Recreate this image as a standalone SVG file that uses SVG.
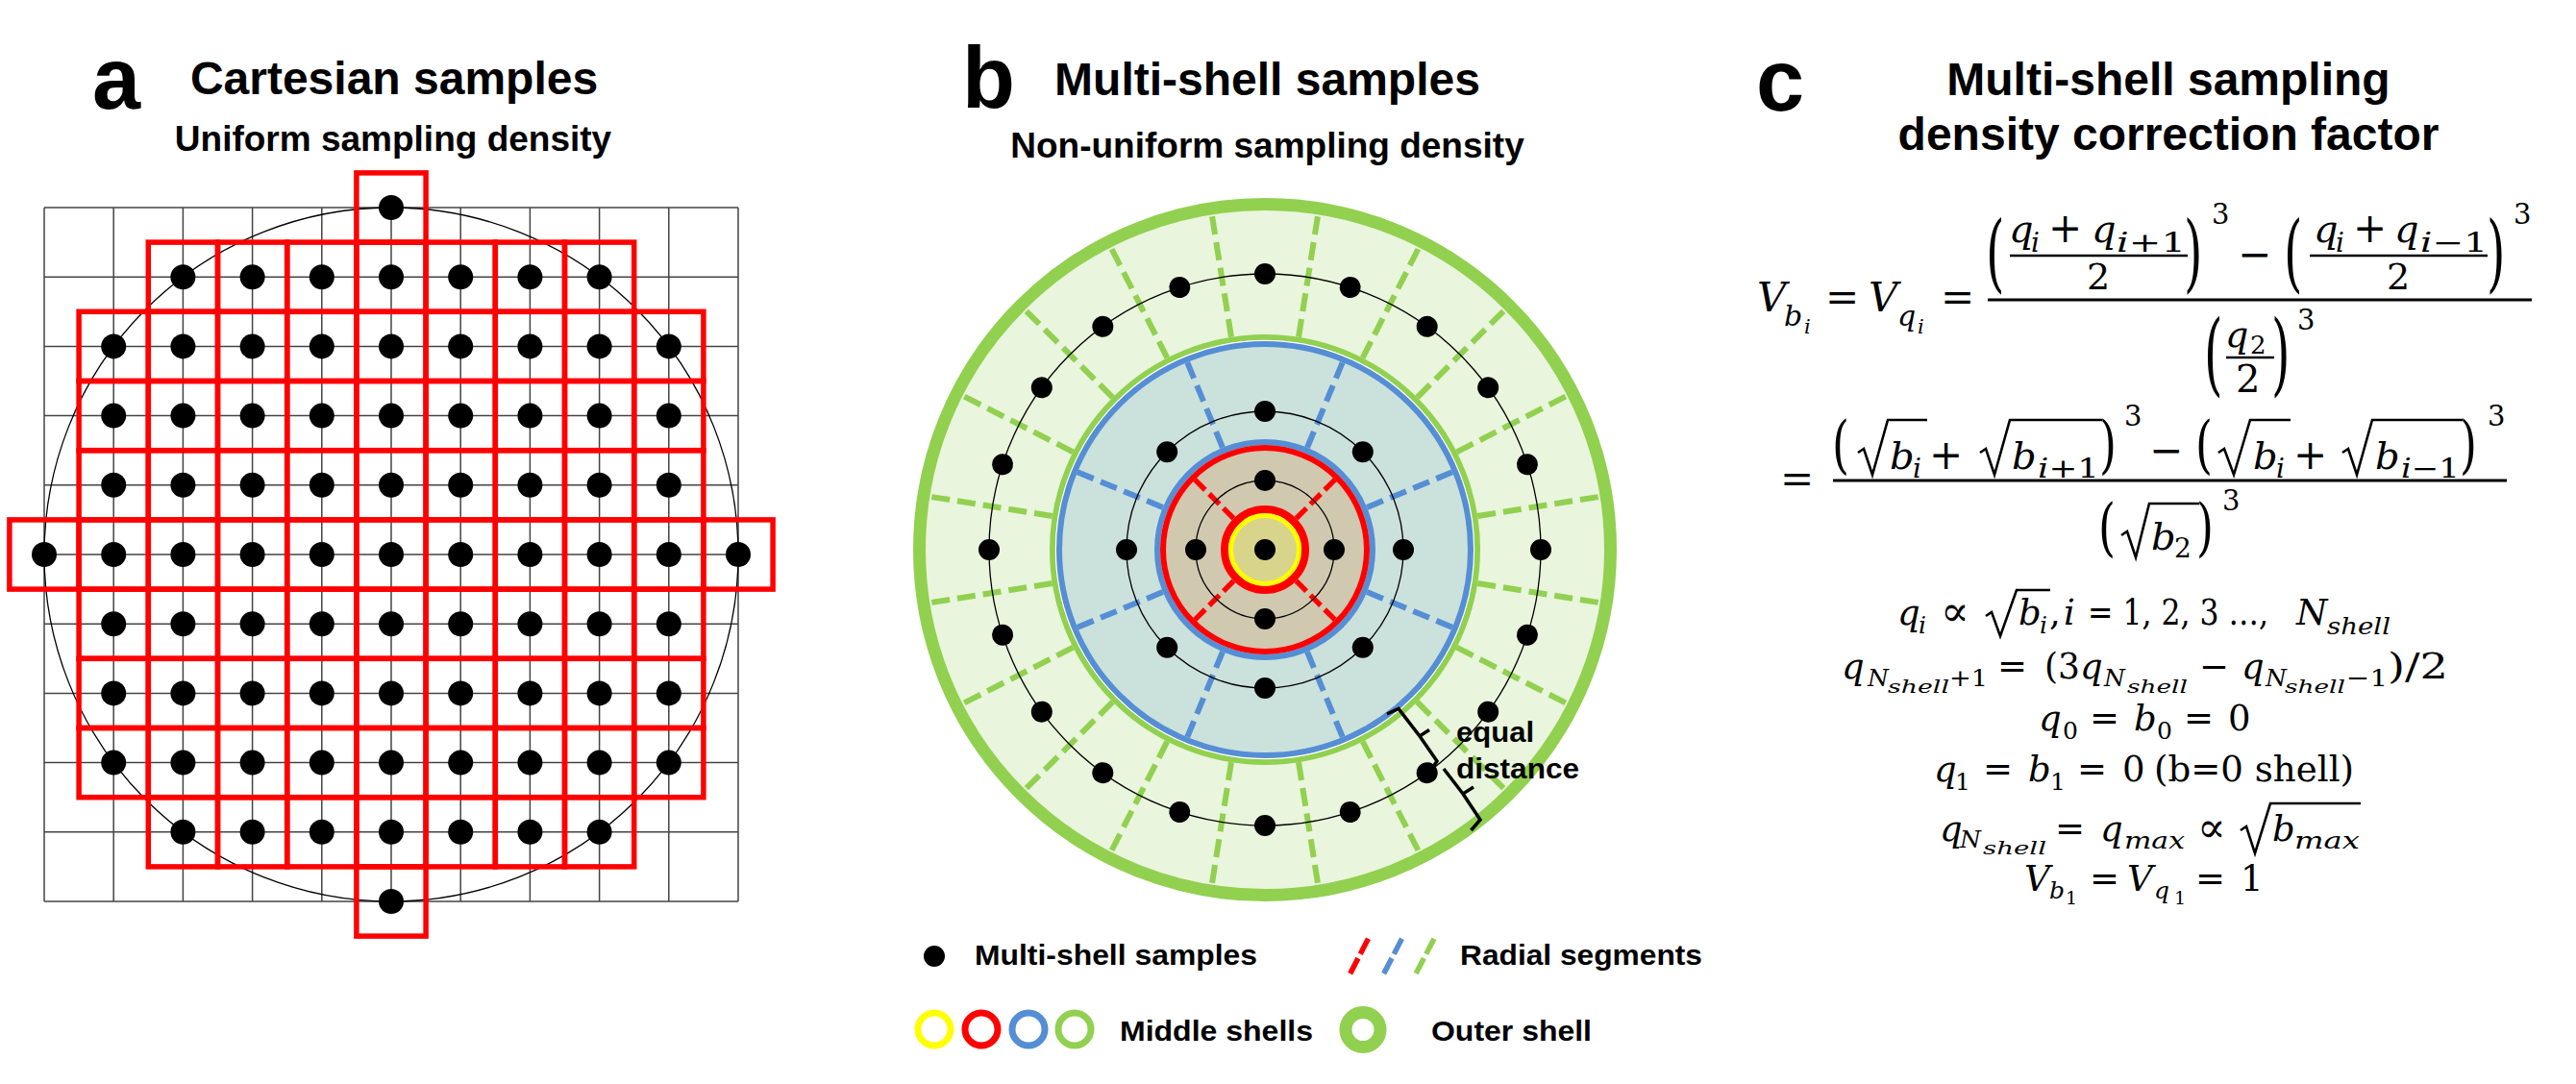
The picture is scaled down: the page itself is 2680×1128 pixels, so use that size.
<svg xmlns="http://www.w3.org/2000/svg" width="2680" height="1128" viewBox="0 0 2680 1128">
<style>
.lbl{font-family:"Liberation Sans",Arial,sans-serif;font-weight:bold;font-size:90px}
.ttl{font-family:"Liberation Sans",Arial,sans-serif;font-weight:bold;font-size:48px;text-anchor:middle}
.sub{font-family:"Liberation Sans",Arial,sans-serif;font-weight:bold;font-size:37px;text-anchor:middle}
.leg{font-family:"Liberation Sans",Arial,sans-serif;font-weight:bold;font-size:30px}
.grid{stroke:#444;stroke-width:1.5;fill:none}
.cell{fill:none;stroke:#FF0000;stroke-width:5.5}
.thin{fill:none;stroke:#000;stroke-width:1.3}
.gd{stroke:#92D050;stroke-width:6;stroke-dasharray:19 8}
.bd{stroke:#558ED5;stroke-width:6;stroke-dasharray:18 8}
.rd{stroke:#FF0000;stroke-width:5.5;stroke-dasharray:15 6}
.f{font-family:"DejaVu Serif","Liberation Serif",serif;fill:#000}
.i{font-style:italic}
.bar{stroke:#000;stroke-width:3}
.bar2{stroke:#000;stroke-width:2.5}
.rad{fill:none;stroke:#000;stroke-width:2.6;stroke-linejoin:miter}
</style>
<defs>
<g id="u"><rect class="cell" x="-36.1" y="-36.1" width="72.2" height="72.2"/><circle r="13"/></g>
<g id="r7"><use href="#u" x="-216.6"/><use href="#u" x="-144.4"/><use href="#u" x="-72.2"/><use href="#u"/><use href="#u" x="72.2"/><use href="#u" x="144.4"/><use href="#u" x="216.6"/></g>
<g id="r9"><use href="#r7"/><use href="#u" x="-288.8"/><use href="#u" x="288.8"/></g>
<g id="r11"><use href="#r9"/><use href="#u" x="-361"/><use href="#u" x="361"/></g>
<circle id="dot" r="11"/>
</defs>
<rect width="2680" height="1128" fill="#fff"/>

<!-- Panel a -->
<g id="panel-a">
<text class="lbl" x="96" y="113">a</text>
<text class="ttl" x="410" y="98">Cartesian samples</text>
<text class="sub" x="409" y="157">Uniform sampling density</text>
<path class="grid" d="M46,216V938M118.2,216V938M190.4,216V938M262.6,216V938M334.8,216V938M407,216V938M479.2,216V938M551.4,216V938M623.6,216V938M695.8,216V938M768,216V938M46,216H768M46,288.2H768M46,360.4H768M46,432.6H768M46,504.8H768M46,577H768M46,649.2H768M46,721.4H768M46,793.6H768M46,865.8H768M46,938H768"/>
<circle class="thin" cx="407" cy="577" r="361" stroke-width="1.2"/>
<g id="cartesian-samples">
<use href="#u" x="407" y="216"/>
<use href="#r7" x="407" y="288.2"/>
<use href="#r9" x="407" y="360.4"/>
<use href="#r9" x="407" y="432.6"/>
<use href="#r9" x="407" y="504.8"/>
<use href="#r11" x="407" y="577"/>
<use href="#r9" x="407" y="649.2"/>
<use href="#r9" x="407" y="721.4"/>
<use href="#r9" x="407" y="793.6"/>
<use href="#r7" x="407" y="865.8"/>
<use href="#u" x="407" y="938"/>
</g>
</g>

<!-- Panel b -->
<g id="panel-b">
<text class="lbl" x="1001" y="112">b</text>
<text class="ttl" x="1318.5" y="99">Multi-shell samples</text>
<text class="sub" x="1318.5" y="164">Non-uniform sampling density</text>
<g id="shells" transform="translate(1316 572)">
<g id="outer-shell">
<circle r="359.5" fill="#E9F5DC" stroke="#92D050" stroke-width="13"/>
<g class="gd">
<line x1="224" x2="353" transform="rotate(9)"/><line x1="224" x2="353" transform="rotate(27)"/><line x1="224" x2="353" transform="rotate(45)"/><line x1="224" x2="353" transform="rotate(63)"/><line x1="224" x2="353" transform="rotate(81)"/>
<line x1="224" x2="353" transform="rotate(99)"/><line x1="224" x2="353" transform="rotate(117)"/><line x1="224" x2="353" transform="rotate(135)"/><line x1="224" x2="353" transform="rotate(153)"/><line x1="224" x2="353" transform="rotate(171)"/>
<line x1="224" x2="353" transform="rotate(189)"/><line x1="224" x2="353" transform="rotate(207)"/><line x1="224" x2="353" transform="rotate(225)"/><line x1="224" x2="353" transform="rotate(243)"/><line x1="224" x2="353" transform="rotate(261)"/>
<line x1="224" x2="353" transform="rotate(279)"/><line x1="224" x2="353" transform="rotate(297)"/><line x1="224" x2="353" transform="rotate(315)"/><line x1="224" x2="353" transform="rotate(333)"/><line x1="224" x2="353" transform="rotate(351)"/>
</g>
<circle class="thin" r="287"/>
<circle r="221" fill="none" stroke="#92D050" stroke-width="6"/>
<circle r="217.6" fill="none" stroke="#fff" stroke-width="1.2"/>
</g>
<g id="blue-shell">
<circle r="214" fill="#CBE1DB" stroke="#558ED5" stroke-width="6"/>
<g class="bd">
<line x1="115" x2="211" transform="rotate(22.5)"/><line x1="115" x2="211" transform="rotate(67.5)"/><line x1="115" x2="211" transform="rotate(112.5)"/><line x1="115" x2="211" transform="rotate(157.5)"/>
<line x1="115" x2="211" transform="rotate(202.5)"/><line x1="115" x2="211" transform="rotate(247.5)"/><line x1="115" x2="211" transform="rotate(292.5)"/><line x1="115" x2="211" transform="rotate(337.5)"/>
</g>
<circle class="thin" r="144"/>
<circle r="112" fill="none" stroke="#558ED5" stroke-width="6"/>
</g>
<g id="red-shell">
<circle r="106" fill="#D0C8AF" stroke="#FF0000" stroke-width="6"/>
<g class="rd">
<line x1="46" x2="103" transform="rotate(45)"/><line x1="46" x2="103" transform="rotate(135)"/><line x1="46" x2="103" transform="rotate(225)"/><line x1="46" x2="103" transform="rotate(315)"/>
</g>
<circle class="thin" r="72"/>
<circle r="42" fill="#D9D48C" stroke="#FF0000" stroke-width="8"/>
</g>
<g id="yellow-shell">
<circle r="35.5" fill="#D9D48C" stroke="#FFFF00" stroke-width="5"/>
</g>
<g id="shell-samples">
<use href="#dot"/>
<use href="#dot" x="72"/><use href="#dot" x="-72"/><use href="#dot" y="72"/><use href="#dot" y="-72"/>
<use href="#dot" x="144"/><use href="#dot" x="-144"/><use href="#dot" y="144"/><use href="#dot" y="-144"/>
<use href="#dot" x="101.8" y="101.8"/><use href="#dot" x="-101.8" y="101.8"/><use href="#dot" x="101.8" y="-101.8"/><use href="#dot" x="-101.8" y="-101.8"/>
<use href="#dot" transform="rotate(0) translate(287 0)"/><use href="#dot" transform="rotate(18) translate(287 0)"/><use href="#dot" transform="rotate(36) translate(287 0)"/><use href="#dot" transform="rotate(54) translate(287 0)"/><use href="#dot" transform="rotate(72) translate(287 0)"/>
<use href="#dot" transform="rotate(90) translate(287 0)"/><use href="#dot" transform="rotate(108) translate(287 0)"/><use href="#dot" transform="rotate(126) translate(287 0)"/><use href="#dot" transform="rotate(144) translate(287 0)"/><use href="#dot" transform="rotate(162) translate(287 0)"/>
<use href="#dot" transform="rotate(180) translate(287 0)"/><use href="#dot" transform="rotate(198) translate(287 0)"/><use href="#dot" transform="rotate(216) translate(287 0)"/><use href="#dot" transform="rotate(234) translate(287 0)"/><use href="#dot" transform="rotate(252) translate(287 0)"/>
<use href="#dot" transform="rotate(270) translate(287 0)"/><use href="#dot" transform="rotate(288) translate(287 0)"/><use href="#dot" transform="rotate(306) translate(287 0)"/><use href="#dot" transform="rotate(324) translate(287 0)"/><use href="#dot" transform="rotate(342) translate(287 0)"/>
</g>
</g>
<g id="connectors">
<path d="M1443,743 L1455,737.5 L1477,766 L1487,759.5 M1477,766 L1495,792 L1491,798 M1502,800 L1522,826 L1533,819 M1522,826 L1540,853 L1530.5,864" fill="none" stroke="#000" stroke-width="3.5"/>
</g>
<text class="leg" x="1515" y="772" textLength="81" lengthAdjust="spacingAndGlyphs">equal</text>
<text class="leg" x="1515" y="810" textLength="128" lengthAdjust="spacingAndGlyphs">distance</text>
</g>

<!-- Legend -->
<g id="legend">
<g id="legend-samples">
<circle cx="972" cy="995" r="11"/>
<text class="leg" x="1014" y="1004" textLength="294" lengthAdjust="spacingAndGlyphs">Multi-shell samples</text>
</g>
<g id="legend-radial">
<line x1="1423.5" y1="976.7" x2="1404.6" y2="1013.3" stroke="#FF0000" stroke-width="5.5" stroke-dasharray="18 5"/>
<line x1="1458.5" y1="976.7" x2="1439.6" y2="1013.3" stroke="#558ED5" stroke-width="5.5" stroke-dasharray="18 5"/>
<line x1="1492" y1="976.7" x2="1473" y2="1013.3" stroke="#92D050" stroke-width="5.5" stroke-dasharray="18 5"/>
<text class="leg" x="1519" y="1004" textLength="252" lengthAdjust="spacingAndGlyphs">Radial segments</text>
</g>
<g id="legend-middle">
<circle cx="972" cy="1071" r="17" fill="none" stroke="#FFFF00" stroke-width="7"/>
<circle cx="1021" cy="1071" r="17" fill="none" stroke="#FF0000" stroke-width="7"/>
<circle cx="1070" cy="1071" r="17" fill="none" stroke="#558ED5" stroke-width="7"/>
<circle cx="1118" cy="1071" r="17" fill="none" stroke="#92D050" stroke-width="7"/>
<text class="leg" x="1165" y="1083" textLength="201" lengthAdjust="spacingAndGlyphs">Middle shells</text>
</g>
<g id="legend-outer">
<circle cx="1418" cy="1071.5" r="18" fill="none" stroke="#92D050" stroke-width="13"/>
<text class="leg" x="1489" y="1083" textLength="167" lengthAdjust="spacingAndGlyphs">Outer shell</text>
</g>
</g>

<!-- Panel c -->
<g id="panel-c">
<text class="lbl" x="1827" y="115">c</text>
<text class="ttl" x="2256" y="99">Multi-shell sampling</text>
<text class="ttl" x="2256" y="156">density correction factor</text>

<g id="eq1" class="f">
<text class="i" x="1828" y="324" font-size="42">V</text>
<text class="i" x="1856" y="339" font-size="30">b</text>
<text class="i" x="1877" y="347" font-size="21">i</text>
<text x="1899" y="324" font-size="42">=</text>
<text class="i" x="1944" y="324" font-size="42">V</text>
<text class="i" x="1974" y="339" font-size="30">q</text>
<text class="i" x="1995" y="347" font-size="21">i</text>
<text x="2019" y="324" font-size="42">=</text>
<line class="bar" x1="2068" y1="312" x2="2634" y2="312"/>
<text transform="translate(2066 293) scale(1 1.77)" font-size="50">(</text>
<text class="i" x="2090" y="252" font-size="40">q</text>
<text class="i" x="2113" y="262" font-size="28">i</text>
<text x="2131" y="252" font-size="42">+</text>
<text class="i" x="2176" y="252" font-size="40">q</text>
<text x="2202" y="262" font-size="28" textLength="72" lengthAdjust="spacingAndGlyphs"><tspan class="i">i</tspan>+1</text>
<line class="bar2" x1="2091" y1="266" x2="2276" y2="266"/>
<text x="2171" y="301" font-size="38">2</text>
<text transform="translate(2272 293) scale(1 1.77)" font-size="50">)</text>
<text x="2301" y="233" font-size="29">3</text>
<text x="2328" y="279" font-size="42">−</text>
<text transform="translate(2376 293) scale(1 1.77)" font-size="50">(</text>
<text class="i" x="2407" y="252" font-size="40">q</text>
<text class="i" x="2430" y="262" font-size="28">i</text>
<text x="2448" y="252" font-size="42">+</text>
<text class="i" x="2491" y="252" font-size="40">q</text>
<text x="2518" y="262" font-size="28" textLength="70" lengthAdjust="spacingAndGlyphs"><tspan class="i">i</tspan>−1</text>
<line class="bar2" x1="2403" y1="266" x2="2588" y2="266"/>
<text x="2483" y="301" font-size="38">2</text>
<text transform="translate(2587 293) scale(1 1.77)" font-size="50">)</text>
<text x="2615" y="233" font-size="29">3</text>
<text transform="translate(2293 400) scale(1 1.86)" font-size="50">(</text>
<text class="i" x="2315" y="361" font-size="38">q</text>
<text x="2341" y="368" font-size="26">2</text>
<line class="bar2" x1="2316" y1="372" x2="2366" y2="372"/>
<text x="2326" y="408" font-size="40">2</text>
<text transform="translate(2363 400) scale(1 1.86)" font-size="50">)</text>
<text x="2390" y="343" font-size="29">3</text>
</g>

<g id="eq2" class="f">
<text x="1852" y="513" font-size="42">=</text>
<line class="bar" x1="1907" y1="500" x2="2608" y2="500"/>
<text transform="translate(1906 485) scale(1 1.42)" font-size="46">(</text>
<path class="rad" d="M1933,471 L1939,467 L1948,494 L1964,437 H2005"/>
<text class="i" x="1966" y="488" font-size="40">b</text>
<text class="i" x="1990" y="497" font-size="28">i</text>
<text x="2007" y="488" font-size="42">+</text>
<path class="rad" d="M2060,471 L2066,467 L2075,494 L2091,437 H2187"/>
<text class="i" x="2093" y="488" font-size="40">b</text>
<text x="2120" y="497" font-size="28" textLength="64" lengthAdjust="spacingAndGlyphs"><tspan class="i">i</tspan>+1</text>
<text transform="translate(2184 485) scale(1 1.42)" font-size="46">)</text>
<text x="2210" y="443" font-size="29">3</text>
<text x="2236" y="483" font-size="42">−</text>
<text transform="translate(2284 485) scale(1 1.42)" font-size="46">(</text>
<path class="rad" d="M2308,471 L2314,467 L2324,494 L2341,437 H2383"/>
<text class="i" x="2344" y="488" font-size="40">b</text>
<text class="i" x="2368" y="497" font-size="28">i</text>
<text x="2386" y="488" font-size="42">+</text>
<path class="rad" d="M2437,471 L2443,467 L2452,494 L2468,437 H2562"/>
<text class="i" x="2471" y="488" font-size="40">b</text>
<text x="2498" y="497" font-size="28" textLength="61" lengthAdjust="spacingAndGlyphs"><tspan class="i">i</tspan>−1</text>
<text transform="translate(2559 485) scale(1 1.42)" font-size="46">)</text>
<text x="2588" y="443" font-size="29">3</text>
<text transform="translate(2183 571) scale(1 1.42)" font-size="46">(</text>
<path class="rad" d="M2207,557 L2213,553 L2222,580 L2236,524 H2288"/>
<text class="i" x="2238" y="572" font-size="40">b</text>
<text x="2262" y="580" font-size="28">2</text>
<text transform="translate(2285 571) scale(1 1.42)" font-size="46">)</text>
<text x="2312" y="531" font-size="29">3</text>
</g>

<g id="eq3" class="f">
<text class="i" x="1974" y="650" font-size="37">q</text>
<text class="i" x="1996" y="659" font-size="25">i</text>
<text x="2019" y="651" font-size="44">∝</text>
<path class="rad" d="M2066,641 L2072,637 L2081,662 L2098,614 H2133"/>
<text class="i" x="2100" y="650" font-size="37">b</text>
<text class="i" x="2122" y="659" font-size="25">i</text>
<text x="2132" y="650" font-size="37">,</text>
<text class="i" x="2147" y="650" font-size="37">i</text>
<text x="2172" y="650" font-size="37" textLength="188" lengthAdjust="spacingAndGlyphs">= 1, 2, 3 …,</text>
<text class="i" x="2389" y="650" font-size="37">N</text>
<text class="i" x="2421" y="660" font-size="25" textLength="66" lengthAdjust="spacingAndGlyphs">shell</text>
</g>

<g id="eq4" class="f">
<text class="i" x="1916" y="706" font-size="37">q</text>
<text class="i" x="1943" y="714" font-size="25">N</text>
<text class="i" x="1964" y="721" font-size="19" textLength="64" lengthAdjust="spacingAndGlyphs">shell</text>
<text x="2028" y="714" font-size="25" textLength="40" lengthAdjust="spacingAndGlyphs">+1</text>
<text x="2078" y="706" font-size="37">=</text>
<text x="2127" y="706" font-size="37" textLength="37" lengthAdjust="spacingAndGlyphs">(3</text>
<text class="i" x="2164" y="706" font-size="37">q</text>
<text class="i" x="2189" y="714" font-size="25">N</text>
<text class="i" x="2213" y="721" font-size="19" textLength="63" lengthAdjust="spacingAndGlyphs">shell</text>
<text x="2288" y="706" font-size="37">−</text>
<text class="i" x="2332" y="706" font-size="37">q</text>
<text class="i" x="2357" y="714" font-size="25">N</text>
<text class="i" x="2377" y="721" font-size="19" textLength="63" lengthAdjust="spacingAndGlyphs">shell</text>
<text x="2441" y="714" font-size="25" textLength="43" lengthAdjust="spacingAndGlyphs">−1</text>
<text x="2484" y="706" font-size="37" textLength="63" lengthAdjust="spacingAndGlyphs">)/2</text>
</g>

<g id="eq5" class="f">
<text class="i" x="2121" y="760" font-size="37">q</text>
<text x="2146" y="769" font-size="25">0</text>
<text x="2174" y="760" font-size="37">=</text>
<text class="i" x="2220" y="760" font-size="37">b</text>
<text x="2244" y="769" font-size="25">0</text>
<text x="2272" y="760" font-size="37">=</text>
<text x="2318" y="760" font-size="37">0</text>
</g>

<g id="eq6" class="f">
<text class="i" x="2012" y="813" font-size="37">q</text>
<text x="2034" y="822" font-size="25">1</text>
<text x="2063" y="813" font-size="37">=</text>
<text class="i" x="2110" y="813" font-size="37">b</text>
<text x="2133" y="822" font-size="25">1</text>
<text x="2161" y="813" font-size="37">=</text>
<text x="2208" y="813" font-size="37">0</text>
<text x="2241" y="813" font-size="37" textLength="208" lengthAdjust="spacingAndGlyphs">(b=0 shell)</text>
</g>

<g id="eq7" class="f">
<text class="i" x="2018" y="875" font-size="37">q</text>
<text class="i" x="2039" y="882" font-size="25">N</text>
<text class="i" x="2063" y="889" font-size="19" textLength="66" lengthAdjust="spacingAndGlyphs">shell</text>
<text x="2138" y="875" font-size="37">=</text>
<text class="i" x="2185" y="875" font-size="37">q</text>
<text class="i" x="2210" y="883" font-size="25" textLength="63" lengthAdjust="spacingAndGlyphs">max</text>
<text x="2286" y="876" font-size="44">∝</text>
<path class="rad" d="M2331,864 L2337,860 L2346,888 L2362,836 H2456"/>
<text class="i" x="2364" y="875" font-size="37">b</text>
<text class="i" x="2387" y="883" font-size="25" textLength="68" lengthAdjust="spacingAndGlyphs">max</text>
</g>

<g id="eq8" class="f">
<text class="i" x="2106" y="927" font-size="37">V</text>
<text class="i" x="2132" y="935" font-size="25">b</text>
<text x="2149" y="941" font-size="19">1</text>
<text x="2174" y="927" font-size="37">=</text>
<text class="i" x="2213" y="927" font-size="37">V</text>
<text class="i" x="2241" y="935" font-size="25">q</text>
<text x="2262" y="941" font-size="19">1</text>
<text x="2284" y="927" font-size="37">=</text>
<text x="2331" y="927" font-size="37">1</text>
</g>
</g>
</svg>
